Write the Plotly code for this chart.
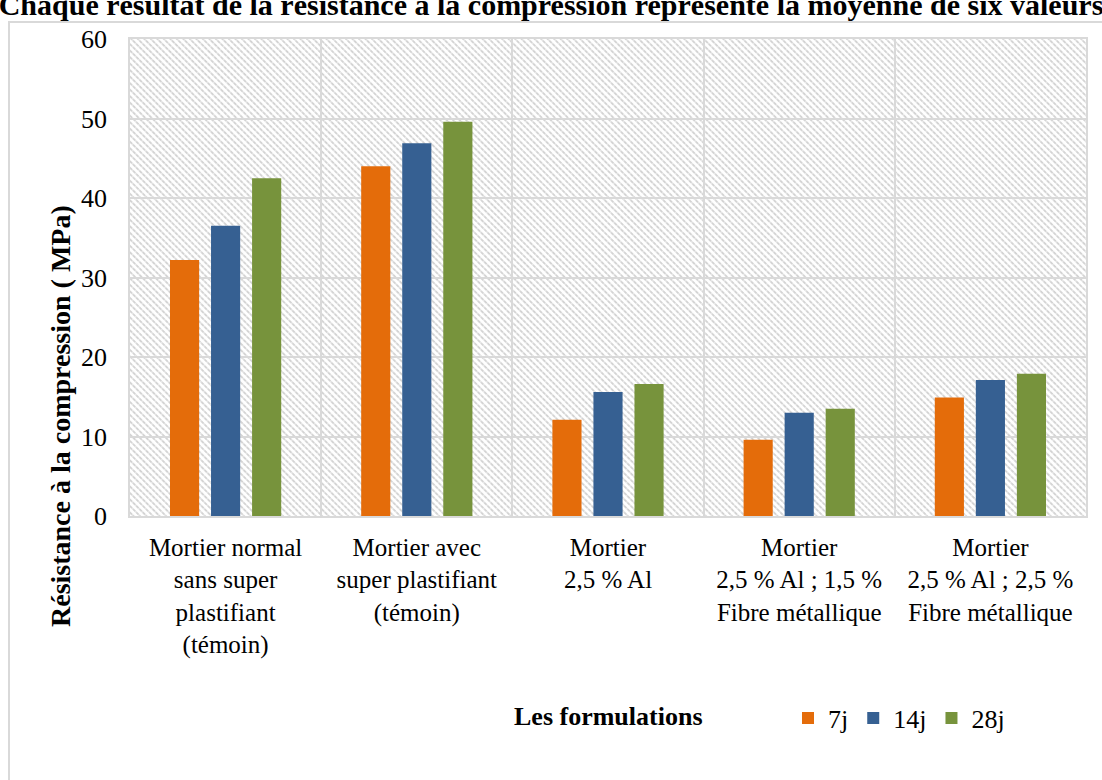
import base64
import plotly.graph_objects as go

# Compression strength (MPa) per mortar formulation and curing age
categories = [
    "Mortier normal<br>sans super<br>plastifiant<br>(témoin)",
    "Mortier avec<br>super plastifiant<br>(témoin)",
    "Mortier<br>2,5 % Al",
    "Mortier<br>2,5 % Al ; 1,5 %<br>Fibre métallique",
    "Mortier<br>2,5 % Al ; 2,5 %<br>Fibre métallique",
]
series_names = ["7j", "14j", "28j"]
values_7j = [32.2, 44.0, 12.1, 9.6, 14.9]
values_14j = [36.5, 46.9, 15.6, 13.0, 17.1]
values_28j = [42.5, 49.6, 16.6, 13.5, 17.9]
y_ticks = [0, 10, 20, 30, 40, 50, 60]

colors = ["#E46C0A", "#366092", "#77933C"]
FONT = "Liberation Serif"
GRID = "#D9D9D9"

W, H = 1102, 780
ML, MR, MT, MB = 130, 16, 39, 264
PW, PH = W - ML - MR, H - MT - MB


def px_x(px):
    return (px - ML) / PW


def px_y(py):
    return (H - MB - py) / PH


# Diagonal hatch for the plot background
svg = f"""<svg xmlns="http://www.w3.org/2000/svg" width="{PW}" height="{PH}">
<defs><pattern id="h" width="4.6" height="4.6" patternUnits="userSpaceOnUse" patternTransform="rotate(-45)">
<line x1="1" y1="0" x2="1" y2="4.6" stroke="#D2D2D2" stroke-width="1.8" stroke-dasharray="2.2,0.8"/></pattern></defs>
<rect width="100%" height="100%" fill="url(#h)"/></svg>"""
hatch_uri = "data:image/svg+xml;base64," + base64.b64encode(svg.encode()).decode()

fig = go.Figure()
for name, vals, col in zip(series_names, [values_7j, values_14j, values_28j], colors):
    fig.add_trace(go.Bar(
        x=categories, y=vals, name=name,
        marker=dict(color=col, line=dict(width=0)),
    ))

fig.update_layout(
    width=W, height=H,
    margin=dict(l=ML, r=MR, t=MT, b=MB),
    paper_bgcolor="white",
    plot_bgcolor="rgba(0,0,0,0)",
    barmode="group",
    bargap=0.356,
    bargroupgap=0.29,
    font=dict(family=FONT, size=25, color="black"),
    title=dict(
        text="<b>Chaque résultat de la résistance à la compression représente la moyenne de six valeurs</b>",
        x=0.5, xanchor="center", xref="container",
        y=0.994, yanchor="middle", yref="container",
        font=dict(family=FONT, size=30, color="black"),
    ),
    xaxis=dict(
        type="category",
        tickson="boundaries",
        showgrid=True, gridcolor=GRID, gridwidth=1.5,
        showline=True, linecolor=GRID, linewidth=1.5, mirror=True,
        ticks="", ticklabelstandoff=8,
        tickfont=dict(family=FONT, size=25),
    ),
    yaxis=dict(
        range=[0, 60], tickvals=y_ticks,
        showgrid=True, gridcolor=GRID, gridwidth=1.5,
        showline=True, linecolor=GRID, linewidth=1.5, mirror=True,
        zeroline=False, ticks="", ticklabelstandoff=16,
        tickfont=dict(family=FONT, size=26),
    ),
    legend=dict(
        orientation="h",
        x=px_x(788), xanchor="left",
        y=px_y(718), yanchor="middle",
        font=dict(family=FONT, size=26),
        bgcolor="rgba(0,0,0,0)",
        itemwidth=30,
        traceorder="normal",
    ),
    images=[dict(
        source=hatch_uri, xref="paper", yref="paper",
        x=0, y=1, sizex=1, sizey=1, sizing="stretch",
        xanchor="left", yanchor="top", layer="below",
    )],
    shapes=[dict(
        type="rect", xref="paper", yref="paper",
        x0=px_x(9), x1=px_x(1115), y0=px_y(795), y1=px_y(22),
        line=dict(color=GRID, width=2), fillcolor="rgba(0,0,0,0)", layer="below",
    )],
    annotations=[
        dict(
            text="<b>Résistance à la compression ( MPa)</b>",
            xref="paper", yref="paper", x=px_x(60), y=px_y(416),
            textangle=-90, showarrow=False,
            xanchor="center", yanchor="middle",
            font=dict(family=FONT, size=28, color="black"),
        ),
        dict(
            text="<b>Les formulations</b>",
            xref="paper", yref="paper", x=px_x(608), y=px_y(716),
            showarrow=False, xanchor="center", yanchor="middle",
            font=dict(family=FONT, size=26, color="black"),
        ),
    ],
)

fig.write_html("out.html")
